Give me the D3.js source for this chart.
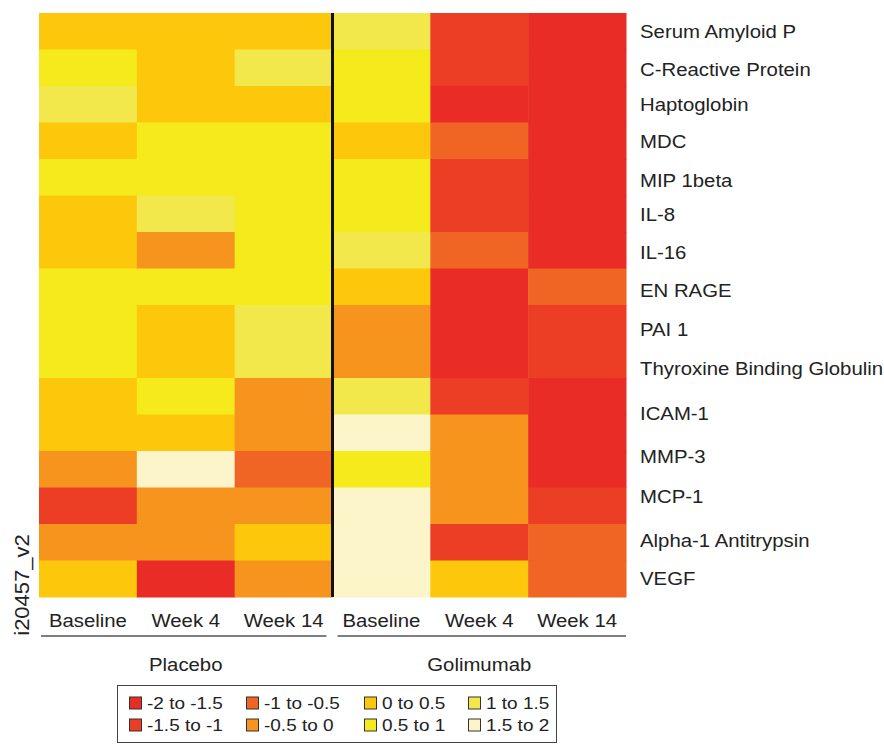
<!DOCTYPE html>
<html>
<head>
<meta charset="utf-8">
<script src="https://cdn.jsdelivr.net/npm/d3@7"></script>
<style>
  body { margin: 0; background: #fff; }
  text { font-family: "Liberation Sans", Arial, Helvetica, sans-serif; fill: #222; }
</style>
</head>
<body>
<svg id="chart"></svg>
<script>
// columns (group / timepoint)
const groups = ['Placebo', 'Golimumab']
const timepoints = ['Baseline', 'Week 4', 'Week 14']
// 16 heatmap rows, 15 printed labels
const rowIds = d3.range(16)
const rowLabels = ['Serum Amyloid P', 'C-Reactive Protein', 'Haptoglobin', 'MDC', 'MIP 1beta', 'IL-8', 'IL-16',
  'EN RAGE', 'PAI 1', 'Thyroxine Binding Globulin', 'ICAM-1', 'MMP-3', 'MCP-1', 'Alpha-1 Antitrypsin', 'VEGF']
// row (fractional index) each label sits on
const labelRows = [0, 1.04, 2, 3.03, 4.1, 5.03, 6.07, 7.1, 8.18, 9.25, 10.46, 11.64, 12.76, 13.94, 14.98]

// values (log fold change), one array per column, top to bottom
const placeboBaseline = [0.25, 0.75, 1.25, 0.25, 0.75, 0.25, 0.25, 0.75, 0.75, 0.75, 0.25, 0.25, -0.25, -1.25, -0.25, 0.25]
const placeboWeek4 = [0.25, 0.25, 0.25, 0.75, 0.75, 1.25, -0.25, 0.75, 0.25, 0.25, 0.75, 0.25, 1.75, -0.25, -0.25, -1.75]
const placeboWeek14 = [0.25, 1.25, 0.25, 0.75, 0.75, 0.75, 0.75, 0.75, 1.25, 1.25, -0.25, -0.25, -0.75, -0.25, 0.25, -0.25]
const golimumabBaseline = [1.25, 0.75, 0.75, 0.25, 0.75, 0.75, 1.25, 0.25, -0.25, -0.25, 1.25, 1.75, 0.75, 1.75, 1.75, 1.75]
const golimumabWeek4 = [-1.25, -1.25, -1.75, -0.75, -1.25, -1.25, -0.75, -1.75, -1.75, -1.75, -1.25, -0.25, -0.25, -0.25, -1.25, 0.25]
const golimumabWeek14 = [-1.75, -1.75, -1.75, -1.75, -1.75, -1.75, -1.75, -0.75, -1.25, -1.25, -1.75, -1.75, -1.75, -1.25, -0.75, -0.75]
const columnValues = [placeboBaseline, placeboWeek4, placeboWeek14, golimumabBaseline, golimumabWeek4, golimumabWeek14]

// legend bins
const binLabels = ['-2 to -1.5', '-1.5 to -1', '-1 to -0.5', '-0.5 to 0', '0 to 0.5', '0.5 to 1', '1 to 1.5', '1.5 to 2']
const binEdges = [-1.5, -1, -0.5, 0, 0.5, 1, 1.5]
const binColors = ['#e92d26', '#ec3e24', '#f06523', '#f7941e', '#fdc80b', '#f4ea1c', '#f2e84c', '#fbf5c9']

const width = 884, height = 746
const sx = 1.1 // the figure's lettering is a bit wide
const fs = 18.5
const svg = d3.select('#chart').attr('width', width).attr('height', height)

const columns = []
groups.forEach(g => timepoints.forEach(t => columns.push(g + '|' + t)))

const x = d3.scaleBand().domain(columns).range([39, 626])
const y = d3.scaleBand().domain(rowIds).range([13, 597])
const color = d3.scaleThreshold().domain(binEdges).range(binColors)

// cells
const cells = []
columns.forEach((c, ci) => rowIds.forEach(r => cells.push({ col: c, row: r, value: columnValues[ci][r] })))

svg.append('g').selectAll('rect')
  .data(cells)
  .enter()
  .append('rect')
  .attr('x', d => x(d.col))
  .attr('y', d => y(d.row))
  .attr('width', x.bandwidth() + 0.5)
  .attr('height', y.bandwidth() + 0.5)
  .attr('fill', d => color(d.value))

// black line between groups
const splitX = x(columns[3])
svg.append('line')
  .attr('x1', splitX).attr('x2', splitX)
  .attr('y1', 13).attr('y2', 597)
  .attr('stroke', '#111')
  .attr('stroke-width', 3)

// row labels
const yLabel = d3.scaleLinear().domain([0, 15]).range([y(0) + y.bandwidth() / 2, y(15) + y.bandwidth() / 2])
svg.append('g').selectAll('text')
  .data(rowLabels)
  .enter()
  .append('text')
  .attr('transform', (d, i) => 'translate(640,' + yLabel(labelRows[i]) + ') scale(' + sx + ',1)')
  .attr('dy', '0.35em')
  .attr('font-size', fs)
  .text(d => d)

// column labels
svg.append('g').selectAll('text')
  .data(columns)
  .enter()
  .append('text')
  .attr('transform', d => 'translate(' + (x(d) + x.bandwidth() / 2) + ',627) scale(' + sx + ',1)')
  .attr('text-anchor', 'middle')
  .attr('font-size', fs)
  .text(d => d.split('|')[1])

// group lines and labels
groups.forEach((g, gi) => {
  const x0 = x(g + '|' + timepoints[0])
  const x1 = x(g + '|' + timepoints[2]) + x.bandwidth()
  svg.append('line')
    .attr('x1', gi ? x0 + 5 : x0 + 2).attr('x2', gi ? x1 : x1 - 6)
    .attr('y1', 636).attr('y2', 636)
    .attr('stroke', '#555')
    .attr('stroke-width', 1.5)
  svg.append('text')
    .attr('transform', 'translate(' + (x0 + x1) / 2 + ',671) scale(' + sx + ',1)')
    .attr('text-anchor', 'middle')
    .attr('font-size', fs)
    .text(g)
})

// rotated id
svg.append('text')
  .attr('transform', 'translate(29,585) rotate(-90) scale(' + sx + ',1)')
  .attr('text-anchor', 'middle')
  .attr('font-size', 20)
  .text('i20457_v2')

// legend
const legend = svg.append('g')
legend.append('rect')
  .attr('x', 117.5).attr('y', 685.5)
  .attr('width', 439).attr('height', 57)
  .attr('fill', 'none')
  .attr('stroke', '#444')
  .attr('stroke-width', 1)

const legX = [129, 246, 364, 468]
const item = legend.selectAll('.item')
  .data(binLabels)
  .enter()
  .append('g')
  .attr('class', 'item')
  .attr('transform', (d, i) => 'translate(' + legX[Math.floor(i / 2)] + ',' + (i % 2 ? 725 : 703) + ')')
item.append('rect')
  .attr('x', 0.5).attr('y', -6)
  .attr('width', 12).attr('height', 12)
  .attr('fill', (d, i) => binColors[i])
  .attr('stroke', '#333')
  .attr('stroke-width', 1)
item.append('text')
  .attr('transform', 'translate(18,0) scale(1.15,1)')
  .attr('dy', '0.35em')
  .attr('font-size', 16.5)
  .text(d => d)
</script>
</body>
</html>
